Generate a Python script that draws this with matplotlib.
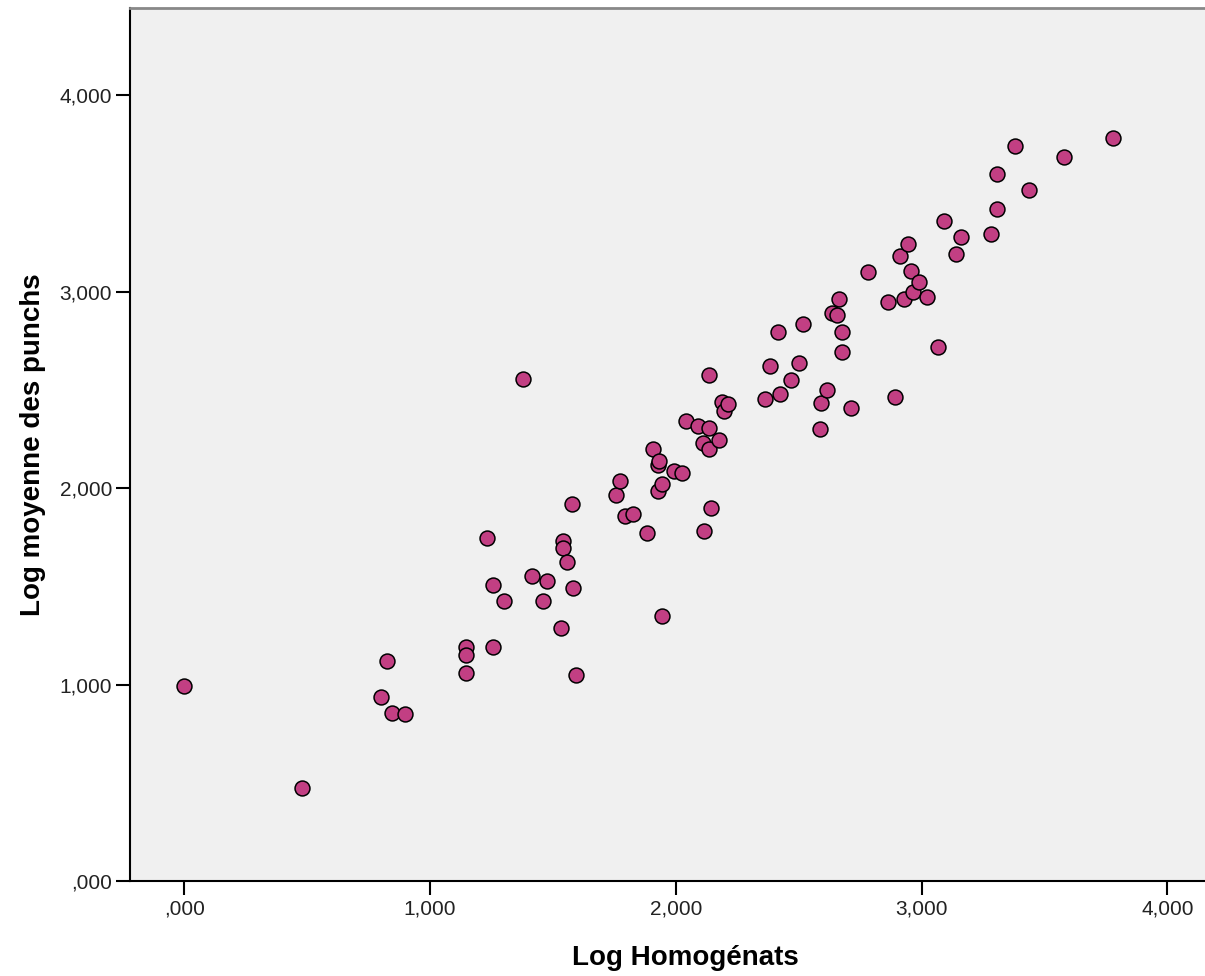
import numpy as np
import matplotlib
matplotlib.use("Agg")
import matplotlib.pyplot as plt
import matplotlib.ticker as ticker

# --- data (log units) ---
log_homog = [
    0.000, 0.478, 0.799, 0.826, 0.846, 0.898,
    1.146, 1.146, 1.146, 1.230, 1.255, 1.255, 1.301, 1.378, 1.415, 1.461, 1.477,
    1.531, 1.542, 1.542, 1.558, 1.579, 1.580, 1.592, 1.755, 1.773, 1.793, 1.827,
    1.881, 1.908, 1.929, 1.929, 1.933, 1.942, 1.945, 1.992, 2.026, 2.041, 2.091,
    2.109, 2.114, 2.135, 2.135, 2.136, 2.142, 2.177, 2.189, 2.196, 2.213,
    2.362, 2.383, 2.417, 2.422, 2.468, 2.500, 2.516, 2.586, 2.590, 2.616,
    2.636, 2.657, 2.664, 2.675, 2.677, 2.711, 2.780, 2.862, 2.891, 2.912,
    2.929, 2.943, 2.956, 2.966, 2.990, 3.020, 3.067, 3.092, 3.138, 3.159,
    3.282, 3.305, 3.305, 3.380, 3.437, 3.579, 3.780,
]
log_punchs = [
    0.990, 0.475, 0.938, 1.120, 0.853, 0.850,
    1.192, 1.150, 1.060, 1.744, 1.506, 1.192, 1.425, 2.555, 1.554, 1.425, 1.527,
    1.286, 1.730, 1.696, 1.625, 1.919, 1.490, 1.048, 1.964, 2.035, 1.859, 1.869,
    1.769, 2.198, 2.117, 1.986, 2.137, 2.019, 1.349, 2.087, 2.075, 2.343, 2.317,
    2.227, 1.781, 2.307, 2.577, 2.197, 1.897, 2.244, 2.439, 2.392, 2.427,
    2.453, 2.621, 2.796, 2.478, 2.550, 2.638, 2.835, 2.300, 2.431, 2.499,
    2.892, 2.880, 2.960, 2.691, 2.793, 2.406, 3.101, 2.948, 2.465, 3.182,
    2.960, 3.240, 3.104, 2.996, 3.047, 2.970, 2.719, 3.359, 3.189, 3.276,
    3.293, 3.596, 3.420, 3.740, 3.517, 3.686, 3.779,
]

X_TICKS = [0, 1, 2, 3, 4]
Y_TICKS = [0, 1, 2, 3, 4]

BG = "#F0F0F0"
DOT = "#C23F83"
FONT = "Liberation Sans"


def spss_fmt(v, pos=None):
    # SPSS style with decimal comma and no leading zero
    s = f"{v:.3f}".replace(".", ",")
    if s.startswith("0"):
        s = s[1:]
    return s


fig = plt.figure(figsize=(12.05, 9.76), dpi=100)
ax = fig.add_axes([130 / 1205, (976 - 881) / 976, (1205 - 130) / 1205, (881 - 8) / 976])
ax.set_facecolor(BG)

ax.scatter(log_homog, log_punchs, s=115, c=DOT, edgecolors="black", linewidths=1.1, zorder=3)

ax.set_xlim(-0.221, 4.153)
ax.set_ylim(0, 4.443)
ax.set_xticks(X_TICKS)
ax.set_yticks(Y_TICKS)
ax.xaxis.set_major_formatter(ticker.FuncFormatter(spss_fmt))
ax.yaxis.set_major_formatter(ticker.FuncFormatter(spss_fmt))

ax.tick_params(axis="both", direction="out", length=10, width=1.5, colors="black",
               labelsize=15, pad=3)
for lab in ax.get_xticklabels() + ax.get_yticklabels():
    lab.set_fontfamily(FONT)
    lab.set_color("#222222")

ax.spines["left"].set_linewidth(1.5)
ax.spines["bottom"].set_linewidth(1.5)
ax.spines["top"].set_color("#888888")
ax.spines["top"].set_linewidth(2)
ax.spines["right"].set_visible(False)

ax.set_xlabel("Log Homogénats", fontsize=20, fontweight="bold", family=FONT)
ax.set_ylabel("Log moyenne des punchs", fontsize=20, fontweight="bold", family=FONT, labelpad=10)
ax.xaxis.set_label_coords(0.517, -0.073)

fig.savefig("out.png", dpi=100, facecolor="white")
